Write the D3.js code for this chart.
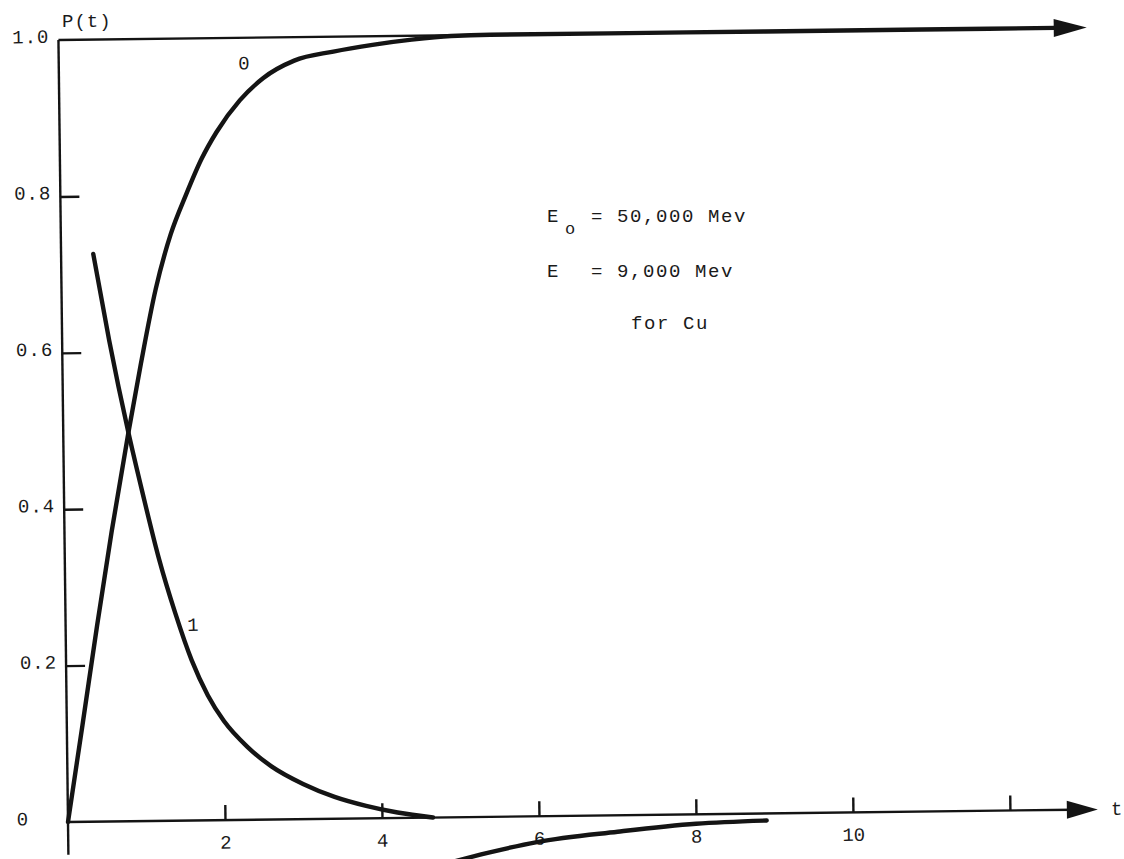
<!DOCTYPE html>
<html>
<head>
<meta charset="utf-8">
<script src="https://cdn.jsdelivr.net/npm/d3@7"></script>
<style>
  html, body { margin: 0; background: #ffffff; }
  svg { display: block; }
  text { font-family: "Liberation Mono", "DejaVu Sans Mono", monospace; fill: #1a1a1a; }
</style>
</head>
<body>
<svg id="chart" width="1124" height="859"></svg>
<script>
// Tick positions and labels
const xTickValues = [2, 4, 6, 8, 10, 12];
const xTickLabels = ["2", "4", "6", "8", "10", ""];
const yTickValues = [0, 0.2, 0.4, 0.6, 0.8, 1.0];
const yTickLabels = ["0", "0.2", "0.4", "0.6", "0.8", "1.0"];

// P0(t)
const t0 = [0, 0.2, 0.4, 0.6, 0.83, 1.0, 1.2, 1.4, 1.6, 1.8, 2.0, 2.3, 2.6, 3.0, 3.5, 4.0, 4.5, 5.0, 5.5, 7, 9, 11, 12.7];
const p0 = [0, 0.124, 0.25, 0.37, 0.497, 0.585, 0.68, 0.75, 0.80, 0.845, 0.88, 0.92, 0.948, 0.97, 0.981, 0.989, 0.995, 0.999, 1.0, 1.0, 1.0, 1.0, 1.0];

// P1(t)
const t1 = [0.41, 0.6, 0.83, 1.0, 1.2, 1.4, 1.6, 1.8, 2.0, 2.3, 2.6, 3.0, 3.4, 3.8, 4.2, 4.65];
const p1 = [0.726, 0.615, 0.497, 0.42, 0.335, 0.265, 0.205, 0.160, 0.127, 0.093, 0.068, 0.045, 0.028, 0.016, 0.007, 0.0];

// lower branch, drawn below the t axis
const t2 = [4.7, 5.34, 5.97, 7.0, 8.0, 8.9];
const p2 = [-0.062, -0.046, -0.033, -0.021, -0.012, -0.009];

// Curve labels
const curveLabels = [
  { text: "0", t: 2.36, p: 0.968 },
  { text: "1", t: 1.62, p: 0.251 }
];

const ink = "#141414";
const svg = d3.select("#chart");

const x = d3.scaleLinear().domain([0, 12]).range([68, 1010]);
const y = d3.scaleLinear().domain([0, 1]).range([822, 40]);

// the sheet is drawn slightly off square
const plot = svg.append("g")
  .attr("transform", `rotate(-0.7, ${x(0)}, ${y(0)})`);

// frame line at P = 1.0
plot.append("line")
  .attr("x1", x(0)).attr("x2", x(5.6))
  .attr("y1", y(1)).attr("y2", y(1))
  .attr("stroke", ink).attr("stroke-width", 2.4);

// vertical axis
plot.append("line")
  .attr("x1", x(0)).attr("x2", x(0))
  .attr("y1", y(1)).attr("y2", y(-0.042))
  .attr("stroke", ink).attr("stroke-width", 2.4);

// horizontal t axis
plot.append("line")
  .attr("x1", x(0)).attr("x2", x(12.8))
  .attr("y1", y(0)).attr("y2", y(0))
  .attr("stroke", ink).attr("stroke-width", 2.4);

// filled triangular arrowhead ending at a data point
function arrowHead(tTip, pTip, len, half) {
  const tx = x(tTip), ty = y(pTip);
  return `M${tx},${ty}L${tx - len},${ty - half}L${tx - len},${ty + half}Z`;
}
plot.append("path")
  .attr("d", arrowHead(13.12, 0, 31, 9))
  .attr("fill", ink);

// x ticks and labels
const xAxis = d3.axisBottom(x)
  .tickValues(xTickValues)
  .tickFormat((d, i) => xTickLabels[i])
  .tickSizeInner(-15)
  .tickSizeOuter(0)
  .tickPadding(15);
const gx = plot.append("g")
  .attr("transform", `translate(0, ${y(0)})`)
  .call(xAxis);
gx.select(".domain").remove();
gx.selectAll(".tick line").attr("stroke", ink).attr("stroke-width", 2.4);
gx.selectAll(".tick text")
  .attr("font-family", "Liberation Mono, DejaVu Sans Mono, monospace")
  .attr("font-size", 19)
  .attr("fill", "#1a1a1a");

// y ticks and labels
const yAxis = d3.axisLeft(y)
  .tickValues(yTickValues)
  .tickFormat((d, i) => yTickLabels[i])
  .tickSizeInner(-19)
  .tickSizeOuter(0)
  .tickPadding(9);
const gy = plot.append("g")
  .attr("transform", `translate(${x(0)}, 0)`)
  .call(yAxis);
gy.select(".domain").remove();
gy.selectAll(".tick line").attr("stroke", ink).attr("stroke-width", 2.4)
  .attr("display", d => (d === 0 || d === 1) ? "none" : null);
gy.selectAll(".tick text")
  .attr("font-family", "Liberation Mono, DejaVu Sans Mono, monospace")
  .attr("font-size", 19)
  .attr("fill", "#1a1a1a")
  .attr("dy", "0.12em")
  .attr("letter-spacing", 1);
gy.selectAll(".tick").filter(d => d === 0).select("text")
  .attr("x", -45).attr("text-anchor", "middle");

// axis names
svg.append("text")
  .attr("x", 62).attr("y", 27)
  .attr("font-size", 19).attr("letter-spacing", 1)
  .text("P(t)");
plot.append("text")
  .attr("x", x(13.12) + 13).attr("y", y(0))
  .attr("dy", "0.3em")
  .attr("font-size", 19)
  .text("t");

// curves
const line = d3.line()
  .x(d => x(d[0]))
  .y(d => y(d[1]))
  .curve(d3.curveMonotoneX);

const curves = [
  d3.zip(t0, p0),
  d3.zip(t1, p1),
  d3.zip(t2, p2)
];
plot.selectAll("path.curve")
  .data(curves)
  .join("path")
  .attr("class", "curve")
  .attr("d", line)
  .attr("fill", "none")
  .attr("stroke", ink)
  .attr("stroke-width", 4.4)
  .attr("stroke-linecap", "round")
  .attr("stroke-linejoin", "round");

// arrowhead at the end of the P0 curve (P = 1)
plot.append("path")
  .attr("d", arrowHead(13.1, 1, 33, 9))
  .attr("fill", ink);

// curve labels
plot.selectAll("text.curve-label")
  .data(curveLabels)
  .join("text")
  .attr("class", "curve-label")
  .attr("x", d => x(d.t))
  .attr("y", d => y(d.p))
  .attr("dy", "0.35em")
  .attr("text-anchor", "middle")
  .attr("font-size", 19)
  .text(d => d.text);

// parameters note
const note = svg.append("g").attr("font-size", 19);
const l1 = note.append("text").attr("y", 222);
l1.append("tspan").attr("x", 547).text("E");
l1.append("tspan").attr("x", 565).attr("dy", 12).attr("font-size", 17).text("o");
l1.append("tspan").attr("x", 591).attr("dy", -12).attr("letter-spacing", 1.6).text("= 50,000 Mev");
const l2 = note.append("text").attr("y", 277);
l2.append("tspan").attr("x", 547).text("E");
l2.append("tspan").attr("x", 591).attr("letter-spacing", 1.6).text("=  9,000 Mev");
note.append("text").attr("x", 631).attr("y", 329)
  .attr("letter-spacing", 1.6).text("for Cu");
</script>
</body>
</html>
